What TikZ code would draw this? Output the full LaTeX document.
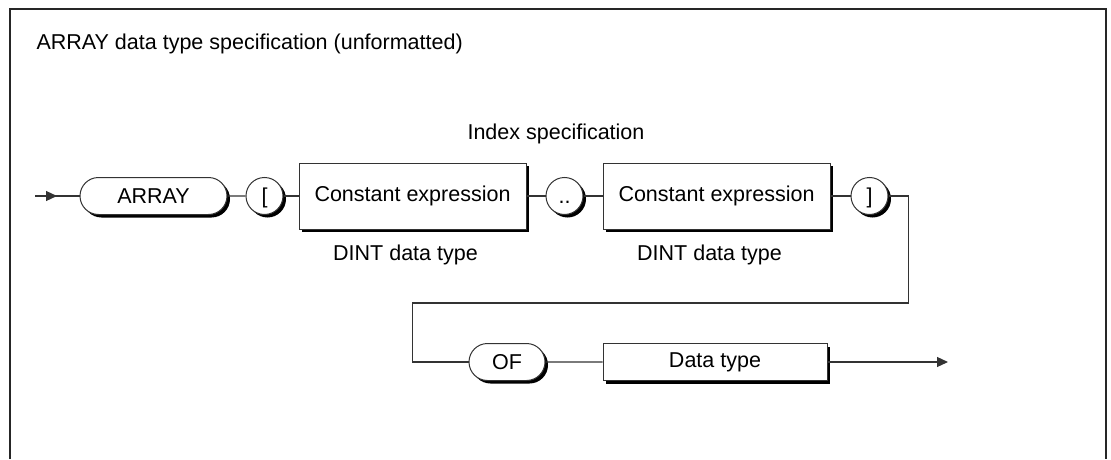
\documentclass[tikz,border=0pt]{standalone}
\usepackage{fontspec}
\setmainfont{Liberation Sans}
\usetikzlibrary{positioning, arrows.meta, calc, shapes.misc, shadows}

\begin{document}
\begin{tikzpicture}[
  x=1pt, y=1pt,
  font=\fontsize{21.5}{26}\selectfont,
  >={Triangle[length=11pt,width=10pt]},
  conn/.style={line width=1.2pt, draw=black!80},
  dropsh/.style={drop shadow={shadow xshift=3pt, shadow yshift=-3pt, fill=black, opacity=1}},
  kwpill/.style={
    draw=black!80, line width=1pt, fill=white, dropsh, rounded rectangle,
    minimum height=37pt, inner sep=0pt
  },
  kwcirc/.style={
    draw=black!80, line width=1pt, fill=white, dropsh, circle,
    minimum size=37pt, inner sep=0pt, text height=15.5pt, text depth=0pt
  },
  ntbox/.style={
    draw=black!80, line width=1pt, fill=white, dropsh, rectangle,
    minimum width=227pt, inner sep=0pt
  }
]
\useasboundingbox (0,0) rectangle (1111,459);

% Frame, open at the bottom
\draw[line width=2pt, black!85] (10,0) -- (10,450) -- (1106,450) -- (1106,0);
\node[anchor=base west] (title) at (33,409) {ARRAY data type specification (unformatted)};

% Row 1: ARRAY [ expr .. expr ]
\coordinate (in) at (35,263);
\node[kwpill, minimum width=147pt] (kwarray) at (153.5,263) {ARRAY};
\node[kwcirc, right=18pt of kwarray] (lbr) {[};
\node[ntbox, minimum height=66pt, right=15pt of lbr] (cexp1) {Constant expression};
\node[kwcirc, right=19pt of cexp1] (dots) {..};
\node[ntbox, minimum height=66pt, right=19pt of dots] (cexp2) {Constant expression};
\node[kwcirc, right=20pt of cexp2] (rbr) {]};

\node[anchor=base] (idx) at (556,320) {Index specification};
\node[anchor=base, xshift=-7pt, yshift=-31pt] (dint1) at (cexp1.south) {DINT data type};
\node[anchor=base, xshift=-7pt, yshift=-31pt] (dint2) at (cexp2.south) {DINT data type};

% Row 2: OF data type
\node[kwpill, minimum width=76pt] (kwof) at (507,97) {OF};
\node[ntbox, minimum height=37pt, minimum width=224pt, right=57pt of kwof] (dtype) {Data type};
\coordinate (out) at (948,97);

% Row 1 lines
\draw[conn] (in) -- (kwarray);
\draw[conn, ->] (in) -- ++(22,0);
\draw[conn] (kwarray) -- (lbr);
\draw[conn] (lbr) -- (cexp1);
\draw[conn] (cexp1) -- (dots);
\draw[conn] (dots) -- (cexp2);
\draw[conn] (cexp2) -- (rbr);

% Wrap: ] back to OF
\draw[conn] (rbr.east) -- ++(20,0) -- ++(0,-107) -| ($(kwof.west)+(-56,0)$) -- (kwof.west);

% Row 2 lines
\draw[conn] (kwof) -- (dtype);
\draw[conn, ->] (dtype) -- (out);

\end{tikzpicture}
\end{document}
